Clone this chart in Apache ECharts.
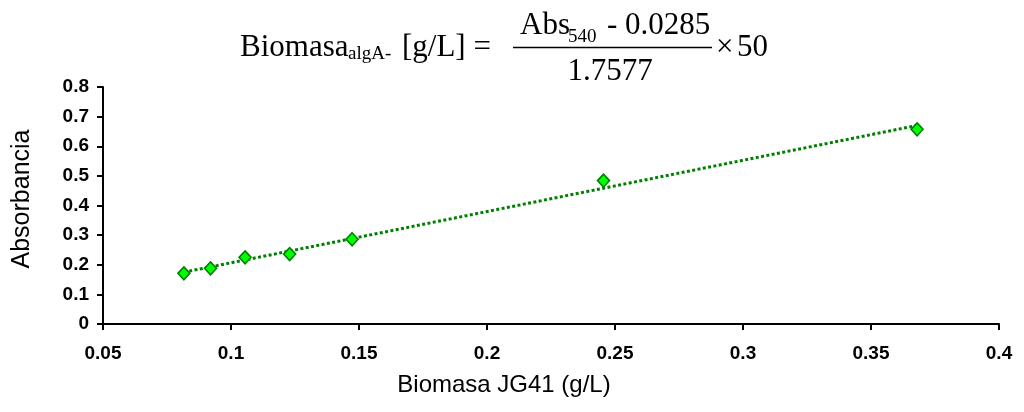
<!DOCTYPE html>
<html>
<head>
<meta charset="utf-8">
<script src="https://cdn.jsdelivr.net/npm/echarts@6/dist/echarts.min.js"></script>
<style>
  html, body { margin: 0; padding: 0; background: #fff; }
  #chart { width: 1024px; height: 412px; }
</style>
</head>
<body>
<div id="chart"></div>
<script>
// Calibration samples: biomass (g/L) vs absorbance
const biomasa = [0.0816, 0.0920, 0.1055, 0.1229, 0.1473, 0.2455, 0.3680];
const absorbancia = [0.171, 0.188, 0.225, 0.236, 0.286, 0.484, 0.657];

const xTicks = { min: 0.05, max: 0.4, interval: 0.05 };
const yTicks = { min: 0, max: 0.8, interval: 0.1 };

// Least-squares linear trendline over the sampled range
function linearFit(xs, ys) {
  const n = xs.length;
  const mx = xs.reduce((a, b) => a + b, 0) / n;
  const my = ys.reduce((a, b) => a + b, 0) / n;
  let sxy = 0, sxx = 0;
  for (let i = 0; i < n; i++) {
    sxy += (xs[i] - mx) * (ys[i] - my);
    sxx += (xs[i] - mx) * (xs[i] - mx);
  }
  const slope = sxy / sxx;
  return { slope, intercept: my - slope * mx };
}
const fit = linearFit(biomasa, absorbancia);
const xLo = Math.min(...biomasa), xHi = Math.max(...biomasa);
const trend = [[xLo, fit.intercept + fit.slope * xLo], [xHi, fit.intercept + fit.slope * xHi]];

const points = biomasa.map((x, i) => [x, absorbancia[i]]);

const serif = '"Liberation Serif", "Times New Roman", serif';
const sans = '"Liberation Sans", Arial, sans-serif';

function txt(x, y, text, size, align) {
  return {
    type: 'text', x: x, y: y, silent: true,
    style: { text: text, font: size + 'px ' + serif, fill: '#000',
             align: align || 'left', verticalAlign: 'middle' }
  };
}

const chart = echarts.init(document.getElementById('chart'), null, { renderer: 'canvas' });
chart.setOption({
  animation: false,
  backgroundColor: '#fff',
  grid: { left: 103, right: 25, top: 87, bottom: 88, containLabel: false },
  xAxis: {
    type: 'value', min: xTicks.min, max: xTicks.max, interval: xTicks.interval,
    axisLine: { onZero: false, lineStyle: { color: '#000', width: 2 } },
    axisTick: { show: true, inside: false, length: 6, lineStyle: { color: '#000', width: 2 } },
    axisLabel: { color: '#000', fontFamily: sans, fontSize: 19, fontWeight: 'bold', margin: 20 },
    splitLine: { show: false }
  },
  yAxis: {
    type: 'value', min: yTicks.min, max: yTicks.max, interval: yTicks.interval,
    axisLine: { show: true, lineStyle: { color: '#000', width: 2 } },
    axisTick: { show: true, inside: false, length: 6, lineStyle: { color: '#000', width: 2 } },
    axisLabel: { color: '#000', fontFamily: sans, fontSize: 19, fontWeight: 'bold', margin: 14 },
    splitLine: { show: false }
  },
  series: [
    {
      type: 'line', data: trend, symbol: 'none', z: 2,
      lineStyle: { color: '#008000', width: 3, type: [3, 2.4], cap: 'butt' }
    },
    {
      type: 'scatter', data: points, symbol: 'diamond', symbolSize: [12, 13], z: 3,
      itemStyle: { color: '#00ff00', borderColor: '#008000', borderWidth: 1.6, opacity: 1 }
    }
  ],
  graphic: [
    // regression formula above the plot
    txt(240, 48, 'Biomasa', 31),
    txt(348, 54, 'algA-', 19),
    txt(402, 48, '[g/L] =', 31),
    txt(520, 26, 'Abs', 31),
    txt(568, 37, '540', 19),
    txt(607, 26, '- 0.0285', 31),
    { type: 'line', silent: true, shape: { x1: 513, y1: 47.5, x2: 712, y2: 47.5 },
      style: { stroke: '#000', lineWidth: 1.5 } },
    txt(610, 72, '1.7577', 31, 'center'),
    txt(716, 48, '\u00d7', 31),
    txt(737, 48, '50', 31),
    // axis titles
    { type: 'text', x: 504, y: 385, silent: true,
      style: { text: 'Biomasa JG41 (g/L)', font: '24px ' + sans, fill: '#000',
               align: 'center', verticalAlign: 'middle' } },
    { type: 'text', x: 22, y: 199, rotation: Math.PI / 2, silent: true,
      style: { text: 'Absorbancia', font: '25px ' + sans, fill: '#000',
               align: 'center', verticalAlign: 'middle' } }
  ]
});
</script>
</body>
</html>
